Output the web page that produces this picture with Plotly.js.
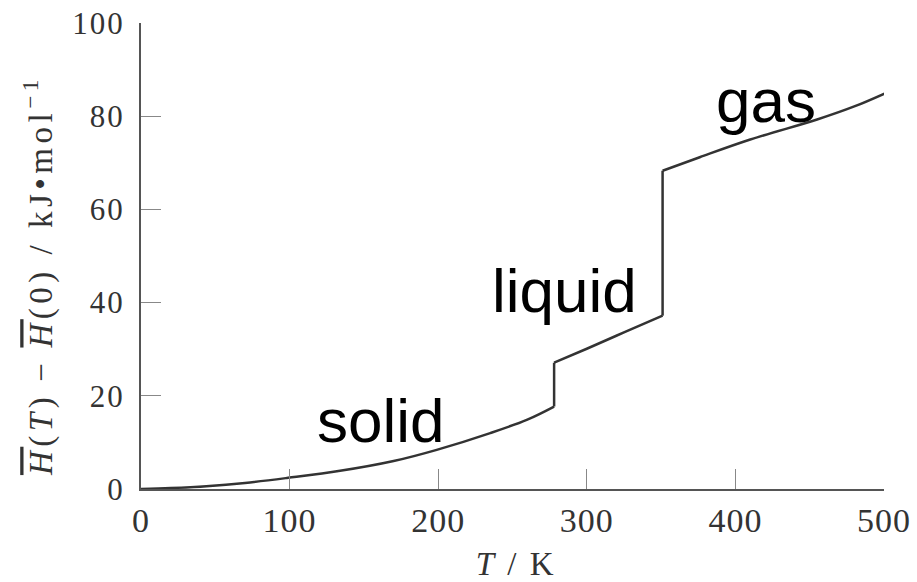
<!DOCTYPE html>
<html>
<head>
<meta charset="utf-8">
<script src="https://cdn.plot.ly/plotly-3.0.1.min.js"></script>
<style>
html,body{margin:0;padding:0;background:#fff;}
#chart{width:917px;height:582px;}
.annotation[data-index="3"] text{letter-spacing:4.5px;}
.annotation[data-index="4"] text{letter-spacing:2.5px;}
.ytick text{letter-spacing:2px;}
.xtick text{letter-spacing:1px;}
</style>
</head>
<body>
<div id="chart"></div>
<script>
// Molar enthalpy H(T)-H(0) (kJ/mol) vs temperature (K), per phase
const solidT  = [0, 20, 44, 70, 99, 134, 170, 199, 235, 260, 278];
const solidH  = [0, 0.2, 0.6, 1.3, 2.4, 3.9, 6.0, 8.4, 12.0, 14.9, 17.7];
const liquidT = [278, 300, 325, 351];
const liquidH = [27.1, 30.1, 33.6, 37.2];
const gasT    = [351, 376, 410, 455, 480, 502];
const gasH    = [68.3, 71.2, 75.0, 79.3, 82.1, 85.1];

const phaseLabels = ["solid", "liquid", "gas"];
const phaseLabelT = [161.5, 284.7, 420.6];
const phaseLabelH = [14.8, 42.5, 83.3];

const xTickVals = [0, 100, 200, 300, 400, 500];
const yTickVals = [0, 20, 40, 60, 80, 100];

const yTitle = '<span style="text-decoration:overline"><i>H</i></span>(<i>T</i>)\u2009\u2212\u2009<span style="text-decoration:overline"><i>H</i></span>(0) / kJ\u2022mol<sup>\u22121</sup>';
const xTitle = '<i>T</i> / K';

const lineStyle = {color: '#333333', width: 2.5};
const phases = [[solidT, solidH], [liquidT, liquidH], [gasT, gasH]];
const traces = phases.map(([t, h]) => ({
  x: t, y: h, type: 'scatter', mode: 'lines',
  line: Object.assign({shape: 'spline', smoothing: 1}, lineStyle), hoverinfo: 'skip'
}));
// phase transitions (vertical jumps) joining the end of one phase to the start of the next
for (let i = 0; i < phases.length - 1; i++) {
  const [t1, h1] = phases[i], [t2, h2] = phases[i + 1];
  traces.push({
    x: [t1[t1.length - 1], t2[0]], y: [h1[h1.length - 1], h2[0]],
    type: 'scatter', mode: 'lines', line: Object.assign({shape: 'linear'}, lineStyle), hoverinfo: 'skip'
  });
}

const serif = '"Liberation Serif", "Times New Roman", serif';
const sans = '"Liberation Sans", Arial, sans-serif';

const annotations = phaseLabels.map((t, i) => ({
  x: phaseLabelT[i], y: phaseLabelH[i], xref: 'x', yref: 'y',
  text: t, showarrow: false, xanchor: 'center', yanchor: 'middle',
  font: {family: sans, size: 62, color: '#000'}
}));
annotations.push({
  x: -0.138, y: 0.459, xref: 'paper', yref: 'paper', textangle: -90,
  text: yTitle, showarrow: false, xanchor: 'center', yanchor: 'middle',
  font: {family: serif, size: 33, color: '#333'}
});
annotations.push({
  x: 0.505, y: -0.161, xref: 'paper', yref: 'paper',
  text: xTitle, showarrow: false, xanchor: 'center', yanchor: 'middle',
  font: {family: serif, size: 33, color: '#333'}
});

const layout = {
  width: 917, height: 582,
  margin: {l: 141, r: 33, t: 23, b: 93},
  paper_bgcolor: '#fff', plot_bgcolor: '#fff',
  showlegend: false,
  xaxis: {
    range: [0, 500], tickvals: xTickVals, ticktext: xTickVals.map(String),
    showgrid: false, zeroline: false, showline: true, linecolor: '#555', linewidth: 2,
    ticks: 'inside', ticklen: 20, tickwidth: 1, tickcolor: '#888',
    tickfont: {family: serif, size: 34, color: '#333'},
    automargin: false, fixedrange: true
  },
  yaxis: {
    range: [0, 100], tickvals: yTickVals, ticktext: yTickVals.map(String),
    showgrid: false, zeroline: false, showline: true, linecolor: '#555', linewidth: 2,
    ticks: 'inside', ticklen: 20, tickwidth: 1, tickcolor: '#888',
    tickfont: {family: serif, size: 31, color: '#333'},
    ticklabelstandoff: 8,
    automargin: false, fixedrange: true
  },
  annotations: annotations
};

Plotly.newPlot('chart', traces, layout, {displayModeBar: false, staticPlot: true});
</script>
</body>
</html>
